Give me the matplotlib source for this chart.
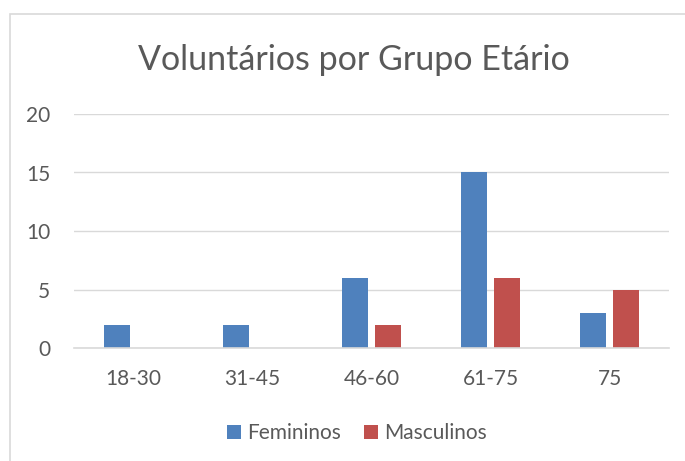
import matplotlib
matplotlib.use("Agg")
import matplotlib.pyplot as plt
import numpy as np
from matplotlib.patches import Rectangle

categories = ["18-30", "31-45", "46-60", "61-75", "75"]
femininos = [2, 2, 6, 15, 3]
masculinos = [0, 0, 2, 6, 5]
yticks = [0, 5, 10, 15, 20]

plt.rcParams['font.family'] = ['Lato', 'DejaVu Sans']
txt = '#595959'

fig = plt.figure(figsize=(6.85, 4.61), dpi=100)
fig.patch.set_facecolor('white')
# outer chart border
fig.add_artist(Rectangle((10/685, -0.1), 1.1, 1 - 14/461 + 0.1, transform=fig.transFigure,
                         fill=False, edgecolor='#D9D9D9', linewidth=1.2))

ax = fig.add_axes([74/685, 1 - 348/461, (669 - 74)/685, (348 - 114)/461])
x = np.arange(len(categories))
w = 0.22
off = 0.139
ax.bar(x - off, femininos, w, color='#4F81BD', label='Femininos', zorder=3)
ax.bar(x + off, masculinos, w, color='#C0504D', label='Masculinos', zorder=3)

ax.set_xlim(-0.5, len(categories) - 0.5)
ax.set_ylim(0, 20)
ax.set_yticks(yticks)
ax.set_yticklabels([str(t) for t in yticks])
ax.set_xticks(x)
ax.set_xticklabels(categories)
ax.tick_params(axis='both', length=0, labelsize=15, colors=txt)
ax.tick_params(axis='y', pad=17)
ax.tick_params(axis='x', pad=15)
ax.grid(axis='y', color='#D9D9D9', linewidth=1, zorder=0)
for s in ['left', 'right', 'top']:
    ax.spines[s].set_visible(False)
ax.spines['bottom'].set_color('#D9D9D9')
ax.spines['bottom'].set_linewidth(1.2)
ax.spines['bottom'].set_zorder(4)

fig.text(354/685, 1 - 60/461, 'Voluntários por Grupo Etário', ha='center', va='center',
         fontsize=24.5, color=txt)

leg = fig.legend(loc='center', bbox_to_anchor=(357/685, 1 - 433/461), ncol=2, frameon=False,
                 fontsize=15, handlelength=0.65, handleheight=0.65, handletextpad=0.3,
                 columnspacing=1.1)
for t in leg.get_texts():
    t.set_color(txt)

fig.savefig('out.png', dpi=100)
